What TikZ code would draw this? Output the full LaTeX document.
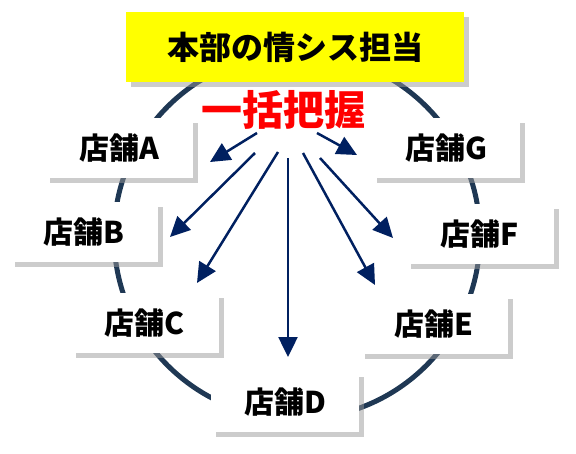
\documentclass[tikz,border=0pt]{standalone}
\usepackage{fontspec}
\setmainfont{Noto Sans CJK JP}
\usetikzlibrary{arrows.meta, shadows}
\definecolor{navy}{RGB}{0,32,96}
\definecolor{ring}{RGB}{31,56,84}
\definecolor{hqyellow}{RGB}{255,255,0}

\begin{document}
\begin{tikzpicture}[x=1pt, y=1pt,
    boxshadow/.style={drop shadow={shadow xshift=5pt, shadow yshift=-5pt, fill=black!40}},
    store/.style={rectangle, fill=white, minimum width=148pt, minimum height=60pt,
        font=\fontsize{30}{32}\selectfont\bfseries, boxshadow},
    fan/.style={-{Triangle[length=20pt, width=19pt]}, line width=2.5pt, navy}]
    \useasboundingbox (0,0) rectangle (576,-453);

    % Ring
    \draw[ring, line width=5pt] (297,-236) circle[radius=183];

    % Head office
    \node[rectangle, fill=hqyellow, minimum width=338pt, minimum height=70pt,
        font=\fontsize{32}{34}\selectfont\bfseries, boxshadow] (hq) at (295,-47) {本部の情シス担当};

    % One overview
    \node[text=red, font=\fontsize{41}{43}\selectfont\bfseries] (ikkatsu) at (283,-110) {一括把握};

    % Stores
    \node[store] (tenA) at (119,-148) {店舗A};
    \node[store] (tenB) at (84,-232) {店舗B};
    \node[store] (tenC) at (145,-323) {店舗C};
    \node[store] (tenD) at (285,-402) {店舗D};
    \node[store] (tenE) at (434,-324) {店舗E};
    \node[store] (tenF) at (480,-234) {店舗F};
    \node[store] (tenG) at (446,-148) {店舗G};

    % Arrows fanning out
    \coordinate (sA) at (257,-133); \coordinate (hA) at (210,-162);
    \coordinate (sB) at (255,-153); \coordinate (hB) at (170,-237);
    \coordinate (sC) at (278,-152); \coordinate (hC) at (197,-283);
    \coordinate (sD) at (288,-158); \coordinate (hD) at (288,-357);
    \coordinate (sE) at (303,-153); \coordinate (hE) at (375,-285);
    \coordinate (sF) at (320,-158); \coordinate (hF) at (393,-238);
    \coordinate (sG) at (317,-133); \coordinate (hG) at (357,-155);
    \foreach \s in {A,B,C,D,E,F,G}
        \draw[fan] (s\s) -- (h\s);
\end{tikzpicture}
\end{document}
